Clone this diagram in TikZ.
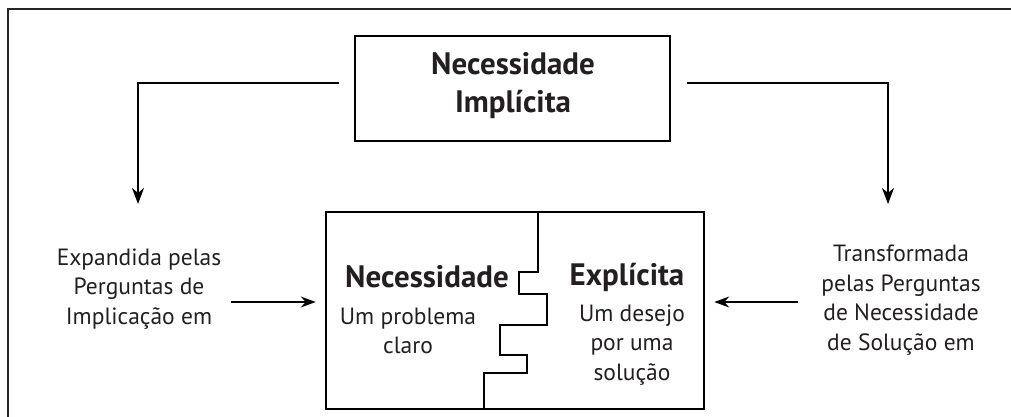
\documentclass[tikz,border=0pt]{standalone}
\usepackage{fontspec}
\setmainfont{PT Sans}
\usetikzlibrary{arrows.meta}

\definecolor{ink}{HTML}{231F20}

\tikzset{
  box/.style = {draw=black, line width=2.6pt, rectangle},
  title/.style = {text=ink, font=\fontsize{31}{38}\selectfont\bfseries, align=center},
  desc/.style = {text=ink, font=\fontsize{23.5}{29.5}\selectfont, align=center},
  flow/.style = {line width=2.4pt, -{Stealth[length=16pt,width=12pt,inset=5pt]}},
  hint/.style = {line width=1.3pt, -{Stealth[length=15pt,width=11pt,inset=5pt]}}
}

\begin{document}
\begin{tikzpicture}[x=1pt, y=-1pt]
\useasboundingbox (0,0) rectangle (1011,417);
% outer frame, only top and left edge are seen
\draw[line width=2pt, black!85] (8,430) -- (8,9) -- (1030,9);

\node[box, minimum width=315pt, minimum height=105pt] (implicit) at (512.5,88.5) {};
\node[title] (implicitTxt) at (513,86) {Necessidade\\Implícita};

\node[box, minimum width=378pt, minimum height=197pt] (explicit) at (515,310.5) {};
\node[title] (needL) at (427,277) {Necessidade};
\node[title] (needR) at (627,277) {Explícita};
\node[desc] (probTxt) at (408,331) {Um problema\\claro};
\node[desc] (wishTxt) at (632,345) {Um desejo\\por uma\\solução};

% puzzle cut between the two halves
\draw[line width=2.4pt] (537.7,212) -- (537.7,272) -- (519,272) -- (519,294)
  -- (547,294) -- (547,325) -- (500,325) -- (500,355) -- (527,355)
  -- (527,373) -- (484,373) -- (484,409);

\coordinate (lStart) at (339,83);
\coordinate (lEnd) at (138,204);
\coordinate (rStart) at (687,83);
\coordinate (rEnd) at (888,204);
\draw[flow] (lStart) -| (lEnd);
\draw[flow] (rStart) -| (rEnd);

\node[desc] (expand) at (139,289) {Expandida pelas\\Perguntas de\\Implicação em};
\node[desc] (transform) at (901,300) {Transformada\\pelas Perguntas\\de Necessidade\\de Solução em};

\coordinate (la) at (231,302);
\coordinate (ra) at (798,302);
\draw[hint, shorten >=9pt] (la) -- (la -| explicit.west);
\draw[hint, shorten >=9pt] (ra) -- (ra -| explicit.east);
\end{tikzpicture}
\end{document}
